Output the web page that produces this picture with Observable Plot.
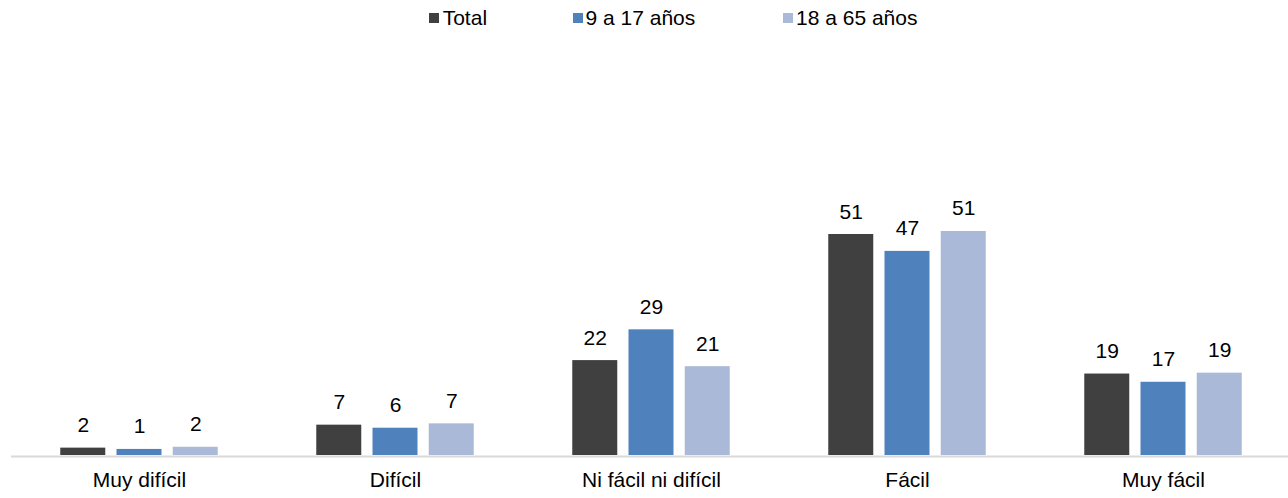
<!DOCTYPE html>
<html>
<head>
<meta charset="utf-8">
<script src="https://cdn.jsdelivr.net/npm/d3@7"></script>
<script src="https://cdn.jsdelivr.net/npm/@observablehq/plot@0.6"></script>
<style>
  html, body { margin: 0; padding: 0; background: #fff; overflow: hidden; }
  body { width: 1288px; height: 498px; font-family: "Liberation Sans", Arial, sans-serif; }
  #legend { position: relative; height: 32px; width: 1288px; }
  .item { position: absolute; top: 6.5px; font-size: 21px; line-height: 21px; color: #000; white-space: nowrap; }
  .sw { position: absolute; top: 12.7px; width: 10px; height: 10px; }
  #chart svg { display: block; overflow: visible; }
</style>
</head>
<body>
<div id="legend"></div>
<div id="chart"></div>
<script>
// ---- data ----
const categories = ["Muy difícil", "Difícil", "Ni fácil ni difícil", "Fácil", "Muy fácil"];
const series = ["Total", "9 a 17 años", "18 a 65 años"];
const totalValues    = [1.7, 7.0, 21.9, 51.0, 18.8];
const age9to17Values = [1.4, 6.3, 29.0, 47.1, 16.9];
const age18to65Values = [1.9, 7.3, 20.5, 51.7, 19.0];
const totalLabels    = ["2", "7", "22", "51", "19"];
const age9to17Labels = ["1", "6", "29", "47", "17"];
const age18to65Labels = ["2", "7", "21", "51", "19"];
const colors = ["#404040", "#4f81bd", "#a9b9d7"];

const valueSets = [totalValues, age9to17Values, age18to65Values];
const labelSets = [totalLabels, age9to17Labels, age18to65Labels];
const table = [];
categories.forEach((c, i) => {
  series.forEach((s, j) => {
    table.push({category: c, series: s, value: valueSets[j][i], label: labelSets[j][i]});
  });
});

// ---- legend (HTML) ----
const legendPos = [[429, 442.7], [573.3, 585.5], [782.7, 796]];
const legend = document.getElementById("legend");
series.forEach((s, j) => {
  const sw = document.createElement("div");
  sw.className = "sw";
  sw.style.left = legendPos[j][0] + "px";
  sw.style.background = colors[j];
  legend.appendChild(sw);
  const t = document.createElement("div");
  t.className = "item";
  t.style.left = legendPos[j][1] + "px";
  t.textContent = s;
  legend.appendChild(t);
});

// ---- chart ----
const chart = Plot.plot({
  width: 1288,
  height: 466,
  marginTop: 163,
  marginBottom: 43,
  marginLeft: 11,
  marginRight: 0,
  style: {fontFamily: "'Liberation Sans', Arial, sans-serif", fontSize: "21px", color: "#000", background: "#fff", overflow: "visible"},
  fx: {domain: categories, range: [10.5, 1290.5], padding: 0, label: null},
  x: {domain: series, paddingInner: 0.2, paddingOuter: 0.876, round: false, axis: null},
  y: {domain: [0, 60], axis: null},
  color: {domain: series, range: colors},
  marks: [
    Plot.barY(table, {fx: "category", x: "series", y: "value", fill: "series"}),
    Plot.ruleY([0], {stroke: "#d9d9d9", strokeWidth: 2, dy: 1}),
    Plot.text(table, {fx: "category", x: "series", y: "value", text: "label", lineAnchor: "bottom", dy: -16, fill: "#000", fontSize: 21}),
    Plot.axisFx({anchor: "bottom", tickSize: 0, tickPadding: 17, fontSize: 21, fill: "#000", label: null})
  ]
});
document.getElementById("chart").appendChild(chart);
</script>
</body>
</html>
